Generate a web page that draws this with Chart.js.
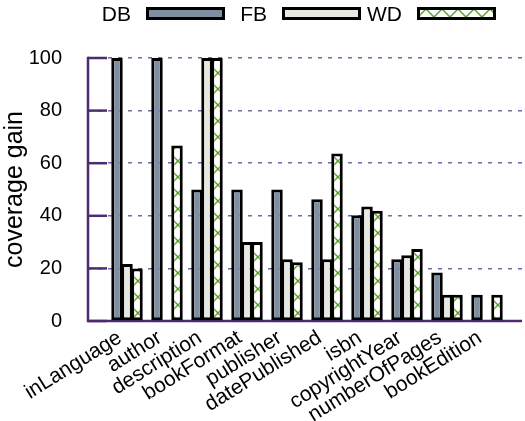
<!DOCTYPE html>
<html>
<head>
<meta charset="utf-8">
<script src="https://cdn.jsdelivr.net/npm/chart.js@4/dist/chart.umd.min.js"></script>
<style>
  html, body { margin: 0; padding: 0; background: #fff; }
  canvas { display: block; }
</style>
</head>
<body>
<canvas id="gainChart" width="525" height="421"></canvas>
<script>
// values
const categories = ['inLanguage', 'author', 'description', 'bookFormat', 'publisher',
  'datePublished', 'isbn', 'copyrightYear', 'numberOfPages', 'bookEdition'];
const dbGain = [100, 100, 50, 50, 50, 46.3, 40.2, 23.5, 18.4, 10];
const fbGain = [21.7, 0, 100, 30, 23.5, 23.5, 43.5, 25, 10, 0];
const wdGain = [20, 66.7, 100, 30, 22.3, 63.7, 41.9, 27.4, 10, 10];
const yTicks = [0, 20, 40, 60, 80, 100];

const axisColor = '#4b2c6f';
const gridColor = '#7d65a0';
const fontFamily = "'Liberation Sans', Arial, sans-serif";

Chart.defaults.font.family = fontFamily;
Chart.defaults.color = '#000';

// green cross hatch for WD
function makeHatch() {
  const c = document.createElement('canvas');
  c.width = 16; c.height = 16;
  const g = c.getContext('2d');
  g.fillStyle = '#fff';
  g.fillRect(0, 0, 16, 16);
  g.strokeStyle = '#5fa030';
  g.lineWidth = 1.5;
  g.beginPath();
  g.moveTo(-2, -2); g.lineTo(18, 18);
  g.moveTo(18, -2); g.lineTo(-2, 18);
  g.stroke();
  const p = g.createPattern(c, 'repeat');
  p.setTransform(new DOMMatrix([1, 0, 0, 1, 2, 1]));
  return p;
}
const hatch = makeHatch();

const toPoints = arr => arr.map((v, i) => ({ x: i, y: v }));

const barStyle = { borderColor: '#000', borderWidth: 3, borderSkipped: false };

// gnuplot-like axes: left + bottom border, inward ticks, rotated labels, legend
const axesPlugin = {
  id: 'axes',
  beforeDatasetsDraw(chart) {
    const { ctx, chartArea, scales } = chart;
    ctx.save();
    ctx.strokeStyle = axisColor;
    ctx.lineWidth = 2.5;
    yTicks.forEach(v => {
      const y = scales.y.getPixelForValue(v);
      ctx.beginPath();
      ctx.moveTo(chartArea.left, y);
      ctx.lineTo(chartArea.left + 19, y);
      ctx.stroke();
    });
    ctx.beginPath();
    ctx.moveTo(chartArea.left, chartArea.top - 1.25);
    ctx.lineTo(chartArea.left, chartArea.bottom);
    ctx.lineTo(chartArea.right, chartArea.bottom);
    ctx.stroke();
    ctx.restore();
  },
  afterDraw(chart) {
    const { ctx, chartArea, scales } = chart;
    ctx.save();
    // x tick labels, rotated and right aligned under each group
    ctx.font = '21px ' + fontFamily;
    ctx.fillStyle = '#000';
    ctx.textAlign = 'right';
    ctx.textBaseline = 'alphabetic';
    categories.forEach((name, i) => {
      const x = scales.x.getPixelForValue(i) - 4;
      ctx.save();
      ctx.translate(x, chartArea.bottom + 20);
      ctx.rotate(-32 * Math.PI / 180);
      ctx.fillText(name, 0, 0);
      ctx.restore();
    });
    // legend: label first, then sample box
    const items = [
      { text: 'DB', fill: '#7f8fa1', x: 146 },
      { text: 'FB', fill: '#e8e8e2', x: 282 },
      { text: 'WD', fill: hatch, x: 417 }
    ];
    items.forEach(it => {
      ctx.fillStyle = '#000';
      ctx.fillText(it.text, it.x - 15, 21);
      ctx.fillStyle = it.fill;
      ctx.fillRect(it.x + 1.5, 8.5, 76, 10);
      ctx.strokeStyle = '#000';
      ctx.lineWidth = 3;
      ctx.strokeRect(it.x + 1.5, 8.5, 76, 10);
    });
    ctx.restore();
  }
};

new Chart(document.getElementById('gainChart'), {
  type: 'bar',
  data: {
    datasets: [
      { label: 'DB', data: toPoints(dbGain), backgroundColor: '#7f8fa1', ...barStyle },
      { label: 'FB', data: toPoints(fbGain), backgroundColor: '#e8e8e2', ...barStyle },
      { label: 'WD', data: toPoints(wdGain), backgroundColor: hatch, ...barStyle }
    ]
  },
  options: {
    responsive: false,
    animation: false,
    devicePixelRatio: 1,
    categoryPercentage: 0.75,
    barPercentage: 1.15,
    layout: { padding: { top: 58, right: 3, left: 0, bottom: 0 } },
    scales: {
      x: {
        type: 'linear',
        offset: false,
        min: -0.975,
        max: 9.875,
        grid: { display: false, drawTicks: false, offset: false },
        border: { display: false },
        afterBuildTicks: s => { s.ticks = categories.map((c, i) => ({ value: i })); },
        afterFit: s => { s.height = 100; },
        ticks: { display: false }
      },
      y: {
        min: 0,
        max: 100,
        afterFit: s => { s.width = 88; },
        grid: { color: gridColor, lineWidth: 1.5, drawTicks: false },
        border: { display: false, dash: [4, 6] },
        ticks: { stepSize: 20, padding: 26, font: { size: 20 } },
        title: {
          display: true,
          text: 'coverage gain',
          font: { size: 25 },
          padding: 0
        }
      }
    },
    plugins: {
      legend: { display: false },
      tooltip: { enabled: false }
    }
  },
  plugins: [axesPlugin]
});
</script>
</body>
</html>
